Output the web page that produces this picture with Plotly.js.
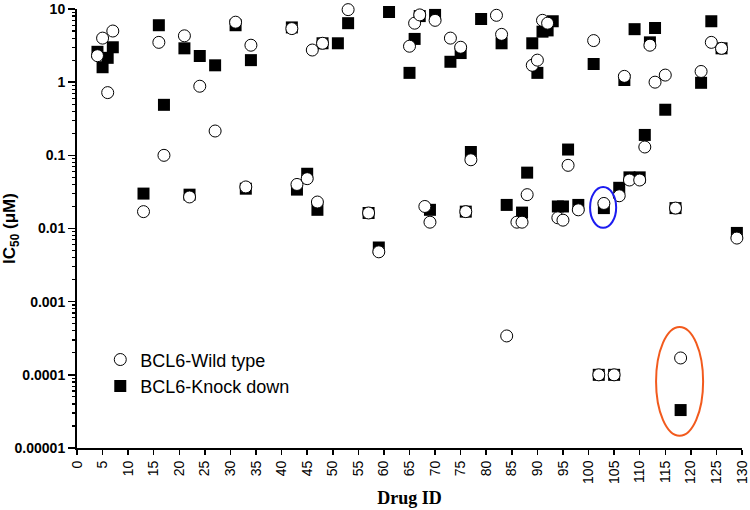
<!DOCTYPE html>
<html><head><meta charset="utf-8">
<script src="https://cdn.plot.ly/plotly-3.0.1.min.js"></script>
<style>html,body{margin:0;padding:0;background:#fff}</style>
</head><body><div id="chart" style="width:750px;height:510px"></div>
<script>
// BCL6-Wild type (open circles)
const wildTypeDrugId = [4,5,6,7,13,16,17,21,22,24,27,31,33,34,42,43,45,46,47,48,53,57,59,
  65,66,67,68,69,70,73,75,76,77,82,83,84,86,87,88,89,90,91,92,94,95,96,98,
  101,102,103,105,106,107,108,110,111,112,113,115,117,118,122,124,126,129];
const wildTypeIC50 = [2.3,4.0,0.72,5.0,0.017,3.5,0.1,4.3,0.027,0.88,0.215,6.6,0.037,3.2,5.4,0.04,0.048,2.75,0.023,3.4,9.8,0.0163,0.0048,
  3.1,6.4,8.3,0.02,0.0122,7.0,4.0,3.0,0.017,0.087,8.2,4.5,0.00034,0.0122,0.0122,0.029,1.7,2.0,7.0,6.4,0.014,0.013,0.073,0.018,
  3.7,0.0001,0.022,0.0001,0.028,1.2,0.046,0.046,0.13,3.2,1.0,1.25,0.019,0.00017,1.4,3.5,2.9,0.0074];

// BCL6-Knock down (filled squares)
const knockDownDrugId = [4,5,6,7,13,16,17,21,22,24,27,31,33,34,42,43,45,47,48,51,53,57,59,61,
  65,66,67,69,70,73,75,76,77,79,83,84,87,88,89,90,91,92,93,94,95,96,98,
  101,102,103,105,106,107,108,109,110,111,112,113,115,117,118,122,124,126,129];
const knockDownIC50 = [2.6,1.6,2.15,3.0,0.03,6.0,0.49,2.9,0.029,2.28,1.7,6.0,0.035,2.0,5.6,0.034,0.056,0.018,3.4,3.4,6.4,0.0163,0.0055,9.1,
  1.34,3.9,8.0,0.018,8.3,1.9,2.5,0.017,0.111,7.3,3.4,0.021,0.0165,0.058,3.4,1.34,4.9,5.1,6.8,0.02,0.02,0.12,0.021,
  1.77,0.0001,0.019,0.0001,0.036,1.07,0.05,5.3,0.05,0.19,3.5,5.5,0.42,0.019,0.000033,0.98,6.8,2.9,0.0087];

const yTickVals = [0.00001,0.0001,0.001,0.01,0.1,1,10];
const yTickText = ['0.00001','0.0001','0.001','0.01','0.1','1','10'];

const seriesNames = ['BCL6-Wild type','BCL6-Knock down'];

// minor tick positions (2..9 within each decade)
const minorVals = [];
for (let d = 0; d < yTickVals.length - 1; d++) {
  for (let m = 2; m <= 9; m++) minorVals.push(yTickVals[d] * m);
}

const traces = [
  {
    x: knockDownDrugId, y: knockDownIC50, name: seriesNames[1],
    type: 'scatter', mode: 'markers', cliponaxis: false,
    marker: {symbol: 'square', size: 12, color: 'black', line: {color: 'black', width: 0}}
  },
  {
    x: wildTypeDrugId, y: wildTypeIC50, name: seriesNames[0],
    type: 'scatter', mode: 'markers', cliponaxis: false,
    marker: {symbol: 'circle', size: 12, color: 'white', line: {color: 'black', width: 1}}
  },
  { // carrier for the minor-tick axis
    x: [null], y: [null], yaxis: 'y2', type: 'scatter', mode: 'markers',
    showlegend: false, hoverinfo: 'skip'
  }
];

const layout = {
  width: 750, height: 510,
  margin: {l: 77, r: 8, t: 9, b: 62},
  paper_bgcolor: 'white', plot_bgcolor: 'white',
  showlegend: true,
  legend: {
    x: 0.035, y: 0.243, xanchor: 'left', yanchor: 'top',
    traceorder: 'reversed', bgcolor: 'rgba(0,0,0,0)', itemwidth: 30,
    font: {family: 'Liberation Sans, Arial, sans-serif', size: 18, color: 'black'}
  },
  xaxis: {
    range: [0, 130], tickmode: 'linear', tick0: 0, dtick: 5,
    tickangle: -90, ticks: 'outside', ticklen: 5, tickwidth: 1.5, tickcolor: 'black',
    showline: true, linecolor: 'black', linewidth: 2, showgrid: false, zeroline: false,
    tickfont: {family: 'Liberation Sans, Arial, sans-serif', size: 14, color: 'black'},
    title: {text: '<b>Drug ID</b>', font: {family: 'Liberation Serif, Times New Roman, serif', size: 18, color: 'black'}, standoff: 8}
  },
  yaxis: {
    type: 'log', range: [-5, 1],
    tickmode: 'array', tickvals: yTickVals, ticktext: yTickText,
    ticks: 'outside', ticklen: 7, tickwidth: 1.5, tickcolor: 'black',
    showline: true, linecolor: 'black', linewidth: 2, showgrid: false, zeroline: false,
    tickfont: {family: 'Liberation Sans, Arial, sans-serif', size: 14, color: 'black', weight: 'bold'},
    title: {text: '<b>IC<sub>50</sub> (μM)</b>', font: {family: 'Liberation Sans, Arial, sans-serif', size: 17, color: 'black'}, standoff: 6}
  },
  yaxis2: {
    type: 'log', range: [-5, 1], overlaying: 'y', side: 'left', anchor: 'x',
    tickmode: 'array', tickvals: minorVals, showticklabels: false,
    ticks: 'outside', ticklen: 4, tickwidth: 1.2, tickcolor: 'black',
    showline: false, showgrid: false, zeroline: false
  },
  shapes: [
    {type: 'circle', xref: 'x', yref: 'y', x0: 100.3, x1: 105.4, y0: 0.0102, y1: 0.037,
     line: {color: '#1c1cf0', width: 2}},
    {type: 'circle', xref: 'x', yref: 'y', x0: 113.2, x1: 122.4, y0: 0.0000147, y1: 0.00045,
     line: {color: '#f25a1d', width: 2}}
  ]
};

Plotly.newPlot('chart', traces, layout, {displayModeBar: false, staticPlot: true});
</script></body></html>
